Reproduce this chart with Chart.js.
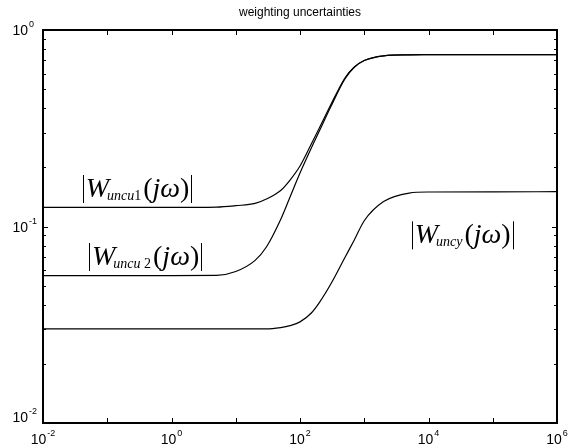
<!DOCTYPE html>
<html>
<head>
<meta charset="utf-8">
<script src="https://cdn.jsdelivr.net/npm/chart.js@4.4.1/dist/chart.umd.min.js"></script>
<style>
  html, body { margin: 0; padding: 0; background: #fff; }
</style>
</head>
<body>
<canvas id="weights" width="578" height="448"></canvas>
<script>
// frequency grid (rad/s) and weight magnitudes
var freq   = [0.01, 1, 5, 10, 20, 30, 50, 70, 100, 150, 200, 300, 500, 700, 1000, 2000, 5000, 1e4, 1e5, 1e6];
var wUncu1 = [0.125, 0.125, 0.1256, 0.1277, 0.131, 0.138, 0.1525, 0.1724, 0.2032, 0.263, 0.317, 0.415, 0.570, 0.648, 0.700, 0.739, 0.748, 0.749, 0.75, 0.75];
var wUncu2 = [0.0563, 0.0563, 0.0564, 0.059, 0.0672, 0.0786, 0.1085, 0.1413, 0.1872, 0.2509, 0.306, 0.4057, 0.563, 0.646, 0.699, 0.739, 0.748, 0.749, 0.75, 0.75];
var wUncy  = [0.0301, 0.0301, 0.0301, 0.0301, 0.0301, 0.0301, 0.0306, 0.0313, 0.0327, 0.0363, 0.041, 0.0508, 0.0695, 0.0854, 0.107, 0.134, 0.148, 0.1498, 0.150, 0.1504];

// axis ticks: decades on x, 1..9 per decade on y
var xTicks = [1e-2, 1e-1, 1, 10, 100, 1e3, 1e4, 1e5, 1e6];
var xLabelExp = [-2, 0, 2, 4, 6];
var yTicks = [0.01, 0.02, 0.03, 0.04, 0.05, 0.06, 0.07, 0.08, 0.09,
              0.1, 0.2, 0.3, 0.4, 0.5, 0.6, 0.7, 0.8, 0.9, 1];
var yLabelExp = [-2, -1, 0];

// curve annotations |W_sub(jw)|, anchored at (freq, magnitude) of the baseline start
var labelSub   = ['uncu', 'uncu', 'uncy'];
var labelIndex = ['1', ' 2', ''];
var labelFreq  = [0.0415, 0.052, 5480];
var labelMag   = [0.1413, 0.0637, 0.0821];

function points(vals) {
  return freq.map(function (f, i) { return { x: f, y: vals[i] }; });
}

function curve(vals) {
  return {
    data: points(vals),
    borderColor: '#000',
    borderWidth: 1.2,
    pointRadius: 0,
    fill: false,
    cubicInterpolationMode: 'monotone'
  };
}

function powerText(ctx, exp, x, y, mode) {
  ctx.font = '14px "Liberation Sans", Arial';
  var wBase = ctx.measureText('10').width;
  ctx.font = '9px "Liberation Sans", Arial';
  var e = String(exp);
  var wExp = ctx.measureText(e).width;
  var bx = mode === 'y' ? x - wBase : x - (wBase + wExp + 1) / 2;
  ctx.font = '14px "Liberation Sans", Arial';
  ctx.fillText('10', bx, y);
  ctx.font = '9px "Liberation Sans", Arial';
  ctx.fillText(e, bx + wBase + 1, y - 8);
}

function weightLabel(ctx, x, base, sub, idx) {
  var serif = '"Liberation Serif", "Times New Roman", serif';
  var bar = function (bx) {
    ctx.beginPath();
    ctx.moveTo(Math.round(bx) + 0.5, base - 22);
    ctx.lineTo(Math.round(bx) + 0.5, base + 6);
    ctx.stroke();
  };
  var put = function (txt, font, dy) {
    ctx.font = font;
    ctx.fillText(txt, cx, base + dy);
    cx += ctx.measureText(txt).width;
  };
  bar(x);
  var cx = x + 3;
  put('W', 'italic 28px ' + serif, 0);
  cx -= 2;
  put(sub, 'italic 14px ' + serif, 3);
  put(idx, '14px ' + serif, 3);
  cx += 2;
  put('(', '28px ' + serif, 0);
  put('j', 'italic 28px ' + serif, 0);
  put('\u03c9', 'italic 28px ' + serif, 0);
  put(')', '28px ' + serif, 0);
  bar(cx + 2);
}

var frame = {
  id: 'frame',
  afterDraw: function (chart) {
    var ctx = chart.ctx, a = chart.chartArea;
    var xs = chart.scales.x, ys = chart.scales.y;
    ctx.save();
    ctx.strokeStyle = '#000';
    ctx.fillStyle = '#000';

    // inward tick marks on all four sides
    ctx.lineWidth = 1;
    ctx.beginPath();
    xs.ticks.forEach(function (t) {
      var px = Math.round(xs.getPixelForValue(t.value)) + 0.5;
      ctx.moveTo(px, a.bottom); ctx.lineTo(px, a.bottom - 5);
      ctx.moveTo(px, a.top); ctx.lineTo(px, a.top + 5);
    });
    ys.ticks.forEach(function (t) {
      var py = Math.round(ys.getPixelForValue(t.value)) + 0.5;
      var major = Math.abs(Math.log10(t.value) - Math.round(Math.log10(t.value))) < 1e-6;
      var len = major ? 5 : 3;
      ctx.moveTo(a.left, py); ctx.lineTo(a.left + len, py);
      ctx.moveTo(a.right, py); ctx.lineTo(a.right - len, py);
    });
    ctx.stroke();

    // axes box
    ctx.lineWidth = 2;
    ctx.strokeRect(a.left, a.top, a.right - a.left, a.bottom - a.top);

    // tick labels as powers of ten
    ctx.textBaseline = 'alphabetic';
    ctx.textAlign = 'left';
    xLabelExp.forEach(function (e) {
      powerText(ctx, e, xs.getPixelForValue(Math.pow(10, e)), a.bottom + 21, 'x');
    });
    yLabelExp.forEach(function (e) {
      var py = ys.getPixelForValue(Math.pow(10, e));
      if (e === -2) py -= 6;
      powerText(ctx, e, a.left - 15, py + 5, 'y');
    });

    // curve annotations
    ctx.lineWidth = 1;
    for (var i = 0; i < labelSub.length; i++) {
      weightLabel(ctx, xs.getPixelForValue(labelFreq[i]), ys.getPixelForValue(labelMag[i]),
                  labelSub[i], labelIndex[i]);
    }
    ctx.restore();
  }
};

new Chart(document.getElementById('weights'), {
  type: 'line',
  data: {
    datasets: [curve(wUncu1), curve(wUncu2), curve(wUncy)]
  },
  options: {
    responsive: false,
    animation: false,
    layout: { padding: { left: 43, right: 21, top: 0, bottom: 0 } },
    plugins: {
      legend: { display: false },
      tooltip: { enabled: false },
      title: {
        display: true,
        text: 'weighting uncertainties',
        color: '#000',
        font: { family: '"Liberation Sans", Arial', size: 12, weight: 'normal', lineHeight: 1.2 },
        padding: { top: 5, bottom: 10.6 }
      }
    },
    scales: {
      x: {
        type: 'logarithmic',
        min: 1e-2,
        max: 1e6,
        grid: { display: false },
        border: { display: false },
        ticks: { display: false },
        afterBuildTicks: function (s) { s.ticks = xTicks.map(function (v) { return { value: v }; }); },
        afterFit: function (s) { s.height = 25; }
      },
      y: {
        type: 'logarithmic',
        min: 1e-2,
        max: 1,
        grid: { display: false },
        border: { display: false },
        ticks: { display: false },
        afterBuildTicks: function (s) { s.ticks = yTicks.map(function (v) { return { value: v }; }); },
        afterFit: function (s) { s.width = 0; }
      }
    }
  },
  plugins: [frame]
});
</script>
</body>
</html>
